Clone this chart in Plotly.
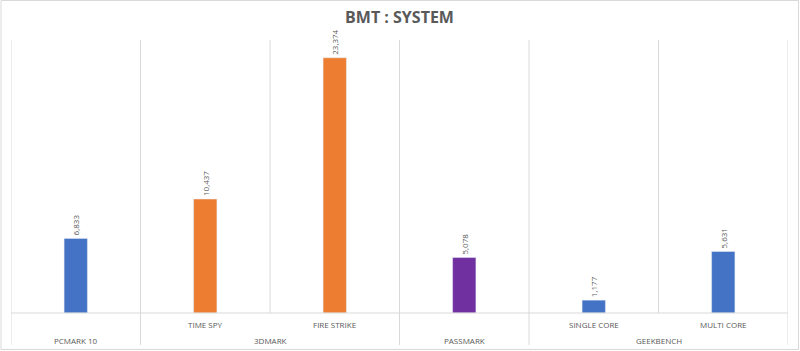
import plotly.graph_objects as go

# ---- data ----
groups = ["PCMARK 10", "3DMARK", "3DMARK", "PASSMARK", "GEEKBENCH", "GEEKBENCH"]
subs = ["", "TIME SPY", "FIRE STRIKE", "", "SINGLE CORE", "MULTI CORE"]
values = [6833, 10437, 23374, 5078, 1177, 5631]
bar_colors = ["#4472C4", "#ED7D31", "#ED7D31", "#7030A0", "#4472C4", "#4472C4"]
title_text = "BMT : SYSTEM"

W, H = 800, 351
ML, MR, MT, MB = 11, 12, 40, 38
plot_h = H - MT - MB
grid = "#D9D9D9"
txt = "#595959"

xs = list(range(len(values)))

fig = go.Figure()
fig.add_trace(go.Bar(
    x=xs, y=values, marker_color=bar_colors, width=0.18,
    texttemplate="%{y:,}", textposition="outside", textangle=-90,
    textfont=dict(size=8, color=txt, family="Open Sans"),
    constraintext="none", cliponaxis=False, hoverinfo="skip",
))

shapes = []
annotations = []
# boundaries
n = len(values)
for b in range(n + 1):
    xb = b - 0.5
    is_group_edge = b == 0 or b == n or groups[b - 1] != groups[b]
    y0 = -(H - MB + 32 - (H - MB)) / plot_h if is_group_edge else 0
    shapes.append(dict(type="line", xref="x", yref="paper", x0=xb, x1=xb,
                       y0=y0, y1=1, line=dict(color=grid, width=1)))
# baseline
shapes.append(dict(type="line", xref="x", yref="paper", x0=-0.5, x1=n - 0.5,
                   y0=0, y1=0, line=dict(color=grid, width=1)))
# outer chart border
pw = W - ML - MR
shapes.append(dict(type="rect", xref="paper", yref="paper",
                   x0=-(ML - 1) / pw, x1=1 + (MR - 1.5) / pw,
                   y0=-(MB - 1.5) / plot_h, y1=1 + (MT - 0.5) / plot_h,
                   line=dict(color="#D9D9D9", width=1)))

# sub labels
for i, s in enumerate(subs):
    if s:
        annotations.append(dict(x=i, y=-11 / plot_h, xref="x", yref="paper",
                                text=s, showarrow=False, yanchor="middle",
                                font=dict(size=8, color=txt, family="Open Sans")))
# group labels
seen = []
for g in groups:
    if g not in seen:
        seen.append(g)
for g in seen:
    idx = [i for i, gg in enumerate(groups) if gg == g]
    cx = (idx[0] + idx[-1]) / 2
    annotations.append(dict(x=cx, y=-27 / plot_h, xref="x", yref="paper",
                            text=g, showarrow=False, yanchor="middle",
                            font=dict(size=8, color=txt, family="Open Sans")))

fig.update_layout(
    width=W, height=H,
    margin=dict(l=ML, r=MR, t=MT, b=MB),
    paper_bgcolor="white", plot_bgcolor="white",
    title=dict(text="<b>" + title_text + "</b>", x=0.5, xanchor="center",
               y=1 - 17 / H, yanchor="middle", xref="paper",
               font=dict(size=16, color=txt, family="Open Sans")),
    xaxis=dict(range=[-0.5, n - 0.5], showticklabels=False, showgrid=False,
               zeroline=False, showline=False, fixedrange=True),
    yaxis=dict(range=[0, 25000], showticklabels=False, showgrid=False,
               zeroline=False, showline=False),
    shapes=shapes, annotations=annotations, showlegend=False,
)
fig.write_html("out.html")
